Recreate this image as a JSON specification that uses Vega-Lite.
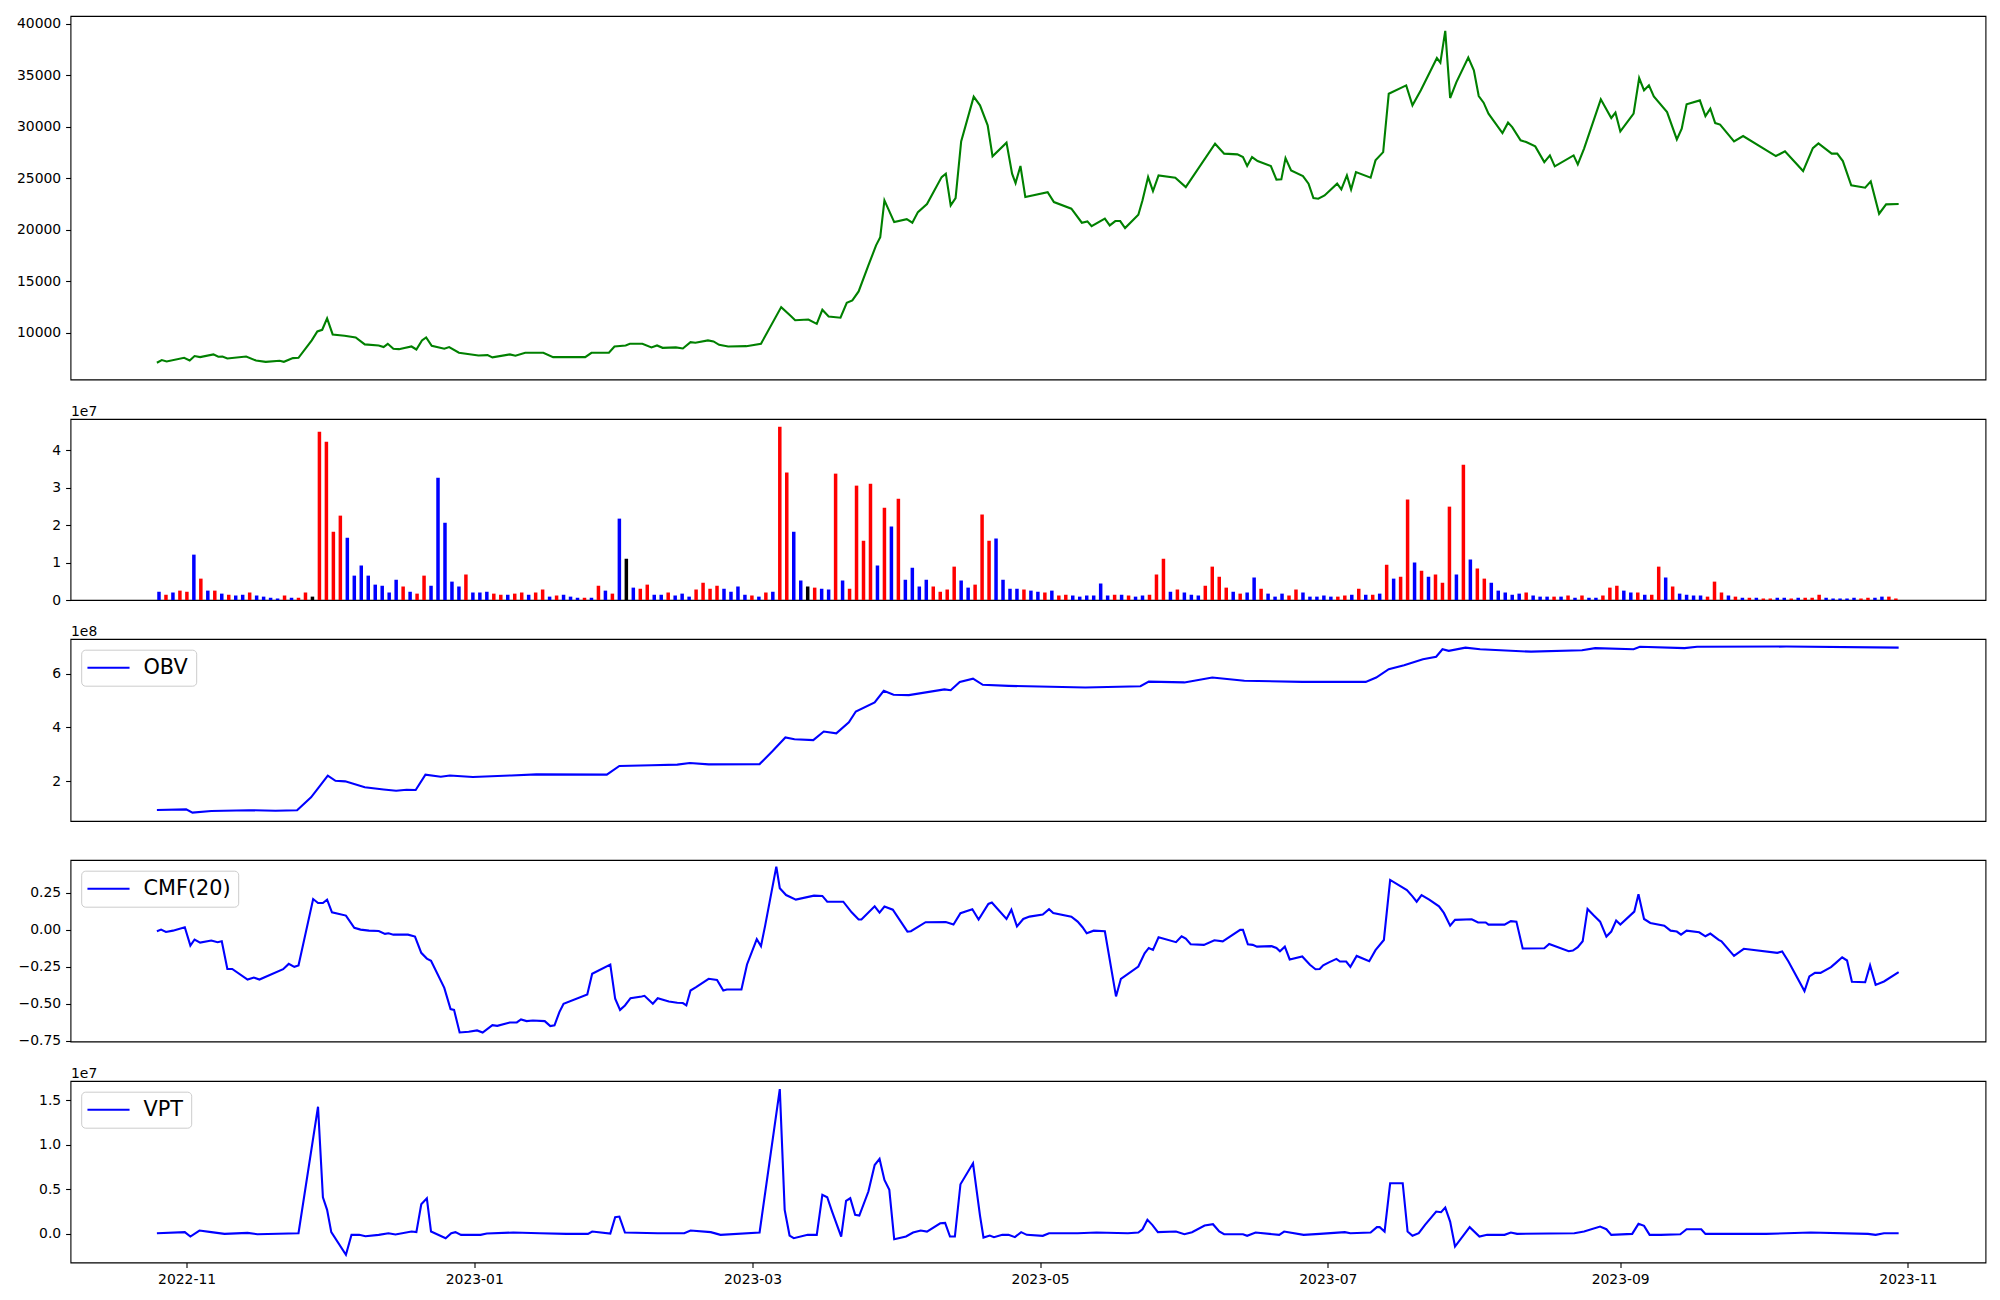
{
  "$schema": "https://vega.github.io/schema/vega-lite/v6.json",
  "autosize": {"type": "pad"},
  "padding": {"left": 15.5, "top": 15, "right": 15, "bottom": 15},
  "background": "white",
  "bounds": "flush",
  "spacing": 39,
  "config": {
    "font": "DejaVu Sans",
    "view": {"stroke": "black", "strokeWidth": 1.1},
    "axis": {"grid": false, "domain": false, "tickColor": "black", "tickWidth": 1.1, "tickSize": 4.9, "labelPadding": 4.9, "labelFontSize": 13.9, "labelColor": "black", "labelFont": "DejaVu Sans", "titleFont": "DejaVu Sans", "titleFontSize": 13.9, "titleFontWeight": "normal", "titleColor": "black"},
    "legend": {"orient": "none", "legendX": 10.7, "legendY": 10.7, "fillColor": "rgba(255,255,255,0.8)", "strokeColor": "#cccccc", "cornerRadius": 4, "padding": 7.5, "symbolType": "M-2.25,0H2.25", "symbolSize": 350, "symbolStrokeWidth": 2.1, "symbolOffset": 9.3, "labelFontSize": 20.8, "labelFont": "DejaVu Sans", "labelColor": "black", "labelOffset": 24.5}
  },
  "resolve": {"scale": {"x": "independent", "color": "independent"}, "legend": {"color": "independent"}},
  "datasets": {
    "price": [
      {"k":-0.3,"close":7090},{"k":0.4,"close":7350},{"k":1.1,"close":7220},{"k":3.6,"close":7570},{"k":4.4,"close":7310},{"k":5.1,"close":7740},{"k":5.9,"close":7640},{"k":7.8,"close":7900},{"k":8.5,"close":7670},{"k":9.1,"close":7700},{"k":9.8,"close":7500},{"k":12.5,"close":7700},{"k":13.9,"close":7310},{"k":15.3,"close":7180},{"k":17.3,"close":7280},{"k":17.9,"close":7180},{"k":19.2,"close":7540},{"k":20.0,"close":7570},{"k":21.9,"close":9260},{"k":22.7,"close":10130},{"k":23.4,"close":10290},{"k":24.1,"close":11390},{"k":24.9,"close":9840},{"k":26.6,"close":9710},{"k":28.2,"close":9550},{"k":29.5,"close":8870},{"k":31.5,"close":8770},{"k":32.2,"close":8610},{"k":32.8,"close":8930},{"k":33.6,"close":8450},{"k":34.4,"close":8410},{"k":36.2,"close":8670},{"k":36.9,"close":8380},{"k":37.7,"close":9260},{"k":38.3,"close":9550},{"k":39.1,"close":8740},{"k":40.9,"close":8450},{"k":41.6,"close":8610},{"k":43.0,"close":8060},{"k":45.8,"close":7800},{"k":47.1,"close":7830},{"k":47.8,"close":7610},{"k":50.3,"close":7900},{"k":51.1,"close":7770},{"k":52.5,"close":8060},{"k":55.1,"close":8060},{"k":56.5,"close":7640},{"k":61.1,"close":7640},{"k":62.0,"close":8060},{"k":64.5,"close":8060},{"k":65.3,"close":8670},{"k":66.9,"close":8770},{"k":67.5,"close":8930},{"k":69.3,"close":8930},{"k":70.6,"close":8580},{"k":71.4,"close":8770},{"k":72.2,"close":8540},{"k":74.1,"close":8580},{"k":75.1,"close":8480},{"k":76.2,"close":9090},{"k":76.9,"close":9030},{"k":78.7,"close":9260},{"k":79.5,"close":9160},{"k":80.3,"close":8830},{"k":81.6,"close":8670},{"k":84.2,"close":8700},{"k":86.3,"close":8930},{"k":89.2,"close":12490},{"k":90.5,"close":11680},{"k":91.2,"close":11220},{"k":93.1,"close":11290},{"k":94.3,"close":10870},{"k":95.1,"close":12230},{"k":96.0,"close":11580},{"k":97.7,"close":11460},{"k":98.6,"close":12910},{"k":99.4,"close":13140},{"k":100.3,"close":14010},{"k":101.7,"close":16530},{"k":102.8,"close":18480},{"k":103.4,"close":19280},{"k":104.0,"close":22850},{"k":105.4,"close":20740},{"k":107.2,"close":21030},{"k":108.0,"close":20680},{"k":108.8,"close":21710},{"k":110.1,"close":22490},{"k":112.2,"close":25110},{"k":112.8,"close":25440},{"k":113.5,"close":22360},{"k":114.2,"close":23070},{"k":115.0,"close":28570},{"k":116.8,"close":32910},{"k":117.7,"close":32070},{"k":118.8,"close":30130},{"k":119.5,"close":27120},{"k":121.5,"close":28450},{"k":122.3,"close":25440},{"k":122.8,"close":24530},{"k":123.5,"close":26180},{"k":124.2,"close":23170},{"k":127.4,"close":23650},{"k":128.3,"close":22680},{"k":130.8,"close":22040},{"k":132.3,"close":20680},{"k":133.1,"close":20810},{"k":133.7,"close":20350},{"k":135.6,"close":21070},{"k":136.3,"close":20420},{"k":137.1,"close":20840},{"k":137.8,"close":20840},{"k":138.5,"close":20160},{"k":140.4,"close":21460},{"k":141.0,"close":22850},{"k":141.8,"close":25110},{"k":142.5,"close":23750},{"k":143.3,"close":25270},{"k":145.7,"close":25050},{"k":147.2,"close":24140},{"k":151.4,"close":28350},{"k":152.7,"close":27380},{"k":154.6,"close":27310},{"k":155.4,"close":27050},{"k":156.0,"close":26180},{"k":156.7,"close":27050},{"k":157.5,"close":26660},{"k":159.4,"close":26180},{"k":160.2,"close":24860},{"k":160.9,"close":24890},{"k":161.5,"close":26950},{"k":162.3,"close":25760},{"k":164.0,"close":25200},{"k":164.8,"close":24470},{"k":165.5,"close":23070},{"k":166.2,"close":23010},{"k":167.1,"close":23330},{"k":168.9,"close":24470},{"k":169.5,"close":23910},{"k":170.3,"close":25270},{"k":170.9,"close":23910},{"k":171.6,"close":25590},{"k":173.7,"close":25050},{"k":174.4,"close":26730},{"k":175.5,"close":27530},{"k":176.3,"close":33200},{"k":178.8,"close":34010},{"k":179.7,"close":32070},{"k":180.9,"close":33530},{"k":183.2,"close":36660},{"k":183.7,"close":36210},{"k":184.4,"close":39290},{"k":185.1,"close":32780},{"k":186.0,"close":34330},{"k":187.7,"close":36700},{"k":188.5,"close":35470},{"k":189.2,"close":32970},{"k":189.9,"close":32330},{"k":190.6,"close":31260},{"k":192.6,"close":29380},{"k":193.4,"close":30390},{"k":194.0,"close":29960},{"k":195.2,"close":28670},{"k":196.0,"close":28510},{"k":197.3,"close":28090},{"k":198.6,"close":26560},{"k":199.4,"close":27210},{"k":200.1,"close":26150},{"k":202.8,"close":27210},{"k":203.4,"close":26340},{"k":204.3,"close":27870},{"k":206.7,"close":32650},{"k":208.2,"close":30840},{"k":208.8,"close":31360},{"k":209.5,"close":29540},{"k":211.4,"close":31260},{"k":212.2,"close":34720},{"k":212.9,"close":33530},{"k":213.6,"close":34010},{"k":214.3,"close":32940},{"k":216.2,"close":31420},{"k":217.6,"close":28770},{"k":218.3,"close":29810},{"k":219.0,"close":32170},{"k":220.9,"close":32550},{"k":221.7,"close":31030},{"k":222.4,"close":31750},{"k":223.1,"close":30350},{"k":223.8,"close":30200},{"k":225.8,"close":28570},{"k":227.1,"close":29090},{"k":231.8,"close":27150},{"k":233.1,"close":27600},{"k":235.7,"close":25690},{"k":237.1,"close":27920},{"k":237.9,"close":28380},{"k":239.8,"close":27380},{"k":240.6,"close":27380},{"k":241.4,"close":26660},{"k":242.6,"close":24300},{"k":244.6,"close":24080},{"k":245.4,"close":24690},{"k":246.6,"close":21550},{"k":247.6,"close":22460},{"k":249.4,"close":22490}
    ],
    "volume": [
      {"k":0,"v":0.22e7,"dir":"down"},{"k":1,"v":0.14e7,"dir":"up"},{"k":2,"v":0.20e7,"dir":"down"},{"k":3,"v":0.25e7,"dir":"up"},{"k":4,"v":0.22e7,"dir":"up"},{"k":5,"v":1.21e7,"dir":"down"},{"k":6,"v":0.57e7,"dir":"up"},{"k":7,"v":0.25e7,"dir":"down"},{"k":8,"v":0.25e7,"dir":"up"},{"k":9,"v":0.17e7,"dir":"down"},
      {"k":10,"v":0.14e7,"dir":"up"},{"k":11,"v":0.12e7,"dir":"down"},{"k":12,"v":0.14e7,"dir":"down"},{"k":13,"v":0.20e7,"dir":"up"},{"k":14,"v":0.12e7,"dir":"down"},{"k":15,"v":0.09e7,"dir":"down"},{"k":16,"v":0.06e7,"dir":"down"},{"k":17,"v":0.04e7,"dir":"down"},{"k":18,"v":0.12e7,"dir":"up"},{"k":19,"v":0.06e7,"dir":"down"},
      {"k":20,"v":0.06e7,"dir":"up"},{"k":21,"v":0.20e7,"dir":"up"},{"k":22,"v":0.09e7,"dir":"flat"},{"k":23,"v":4.49e7,"dir":"up"},{"k":24,"v":4.22e7,"dir":"up"},{"k":25,"v":1.82e7,"dir":"up"},{"k":26,"v":2.25e7,"dir":"up"},{"k":27,"v":1.66e7,"dir":"down"},{"k":28,"v":0.65e7,"dir":"down"},{"k":29,"v":0.92e7,"dir":"down"},
      {"k":30,"v":0.65e7,"dir":"down"},{"k":31,"v":0.41e7,"dir":"down"},{"k":32,"v":0.38e7,"dir":"down"},{"k":33,"v":0.20e7,"dir":"down"},{"k":34,"v":0.54e7,"dir":"down"},{"k":35,"v":0.36e7,"dir":"up"},{"k":36,"v":0.22e7,"dir":"down"},{"k":37,"v":0.17e7,"dir":"up"},{"k":38,"v":0.65e7,"dir":"up"},{"k":39,"v":0.38e7,"dir":"down"},
      {"k":40,"v":3.26e7,"dir":"down"},{"k":41,"v":2.06e7,"dir":"down"},{"k":42,"v":0.49e7,"dir":"down"},{"k":43,"v":0.36e7,"dir":"down"},{"k":44,"v":0.68e7,"dir":"up"},{"k":45,"v":0.20e7,"dir":"down"},{"k":46,"v":0.20e7,"dir":"down"},{"k":47,"v":0.22e7,"dir":"down"},{"k":48,"v":0.17e7,"dir":"up"},{"k":49,"v":0.14e7,"dir":"up"},
      {"k":50,"v":0.14e7,"dir":"down"},{"k":51,"v":0.17e7,"dir":"up"},{"k":52,"v":0.20e7,"dir":"up"},{"k":53,"v":0.14e7,"dir":"down"},{"k":54,"v":0.20e7,"dir":"up"},{"k":55,"v":0.28e7,"dir":"up"},{"k":56,"v":0.09e7,"dir":"down"},{"k":57,"v":0.12e7,"dir":"up"},{"k":58,"v":0.14e7,"dir":"down"},{"k":59,"v":0.09e7,"dir":"down"},
      {"k":60,"v":0.06e7,"dir":"down"},{"k":61,"v":0.06e7,"dir":"up"},{"k":62,"v":0.06e7,"dir":"down"},{"k":63,"v":0.38e7,"dir":"up"},{"k":64,"v":0.25e7,"dir":"down"},{"k":65,"v":0.17e7,"dir":"up"},{"k":66,"v":2.17e7,"dir":"down"},{"k":67,"v":1.10e7,"dir":"flat"},{"k":68,"v":0.33e7,"dir":"down"},{"k":69,"v":0.30e7,"dir":"up"},
      {"k":70,"v":0.41e7,"dir":"up"},{"k":71,"v":0.14e7,"dir":"down"},{"k":72,"v":0.14e7,"dir":"down"},{"k":73,"v":0.20e7,"dir":"up"},{"k":74,"v":0.12e7,"dir":"down"},{"k":75,"v":0.17e7,"dir":"down"},{"k":76,"v":0.09e7,"dir":"down"},{"k":77,"v":0.28e7,"dir":"up"},{"k":78,"v":0.46e7,"dir":"up"},{"k":79,"v":0.30e7,"dir":"up"},
      {"k":80,"v":0.38e7,"dir":"up"},{"k":81,"v":0.30e7,"dir":"down"},{"k":82,"v":0.22e7,"dir":"down"},{"k":83,"v":0.36e7,"dir":"down"},{"k":84,"v":0.14e7,"dir":"down"},{"k":85,"v":0.12e7,"dir":"up"},{"k":86,"v":0.09e7,"dir":"down"},{"k":87,"v":0.20e7,"dir":"up"},{"k":88,"v":0.22e7,"dir":"down"},{"k":89,"v":4.62e7,"dir":"up"},
      {"k":90,"v":3.40e7,"dir":"up"},{"k":91,"v":1.82e7,"dir":"down"},{"k":92,"v":0.52e7,"dir":"down"},{"k":93,"v":0.36e7,"dir":"flat"},{"k":94,"v":0.33e7,"dir":"up"},{"k":95,"v":0.30e7,"dir":"down"},{"k":96,"v":0.28e7,"dir":"down"},{"k":97,"v":3.37e7,"dir":"up"},{"k":98,"v":0.52e7,"dir":"down"},{"k":99,"v":0.30e7,"dir":"up"},
      {"k":100,"v":3.05e7,"dir":"up"},{"k":101,"v":1.58e7,"dir":"up"},{"k":102,"v":3.10e7,"dir":"up"},{"k":103,"v":0.92e7,"dir":"down"},{"k":104,"v":2.46e7,"dir":"up"},{"k":105,"v":1.96e7,"dir":"down"},{"k":106,"v":2.70e7,"dir":"up"},{"k":107,"v":0.54e7,"dir":"down"},{"k":108,"v":0.86e7,"dir":"down"},{"k":109,"v":0.36e7,"dir":"down"},
      {"k":110,"v":0.54e7,"dir":"down"},{"k":111,"v":0.36e7,"dir":"up"},{"k":112,"v":0.22e7,"dir":"up"},{"k":113,"v":0.28e7,"dir":"up"},{"k":114,"v":0.89e7,"dir":"up"},{"k":115,"v":0.52e7,"dir":"down"},{"k":116,"v":0.33e7,"dir":"down"},{"k":117,"v":0.41e7,"dir":"up"},{"k":118,"v":2.28e7,"dir":"up"},{"k":119,"v":1.58e7,"dir":"up"},
      {"k":120,"v":1.64e7,"dir":"down"},{"k":121,"v":0.54e7,"dir":"down"},{"k":122,"v":0.30e7,"dir":"down"},{"k":123,"v":0.30e7,"dir":"down"},{"k":124,"v":0.28e7,"dir":"up"},{"k":125,"v":0.25e7,"dir":"down"},{"k":126,"v":0.22e7,"dir":"down"},{"k":127,"v":0.20e7,"dir":"up"},{"k":128,"v":0.25e7,"dir":"down"},{"k":129,"v":0.12e7,"dir":"up"},
      {"k":130,"v":0.14e7,"dir":"up"},{"k":131,"v":0.12e7,"dir":"down"},{"k":132,"v":0.09e7,"dir":"down"},{"k":133,"v":0.12e7,"dir":"down"},{"k":134,"v":0.12e7,"dir":"down"},{"k":135,"v":0.44e7,"dir":"down"},{"k":136,"v":0.12e7,"dir":"down"},{"k":137,"v":0.14e7,"dir":"up"},{"k":138,"v":0.14e7,"dir":"down"},{"k":139,"v":0.12e7,"dir":"up"},
      {"k":140,"v":0.09e7,"dir":"down"},{"k":141,"v":0.12e7,"dir":"down"},{"k":142,"v":0.14e7,"dir":"up"},{"k":143,"v":0.68e7,"dir":"up"},{"k":144,"v":1.10e7,"dir":"up"},{"k":145,"v":0.22e7,"dir":"down"},{"k":146,"v":0.28e7,"dir":"up"},{"k":147,"v":0.20e7,"dir":"down"},{"k":148,"v":0.14e7,"dir":"down"},{"k":149,"v":0.12e7,"dir":"down"},
      {"k":150,"v":0.38e7,"dir":"up"},{"k":151,"v":0.89e7,"dir":"up"},{"k":152,"v":0.62e7,"dir":"up"},{"k":153,"v":0.33e7,"dir":"up"},{"k":154,"v":0.22e7,"dir":"down"},{"k":155,"v":0.17e7,"dir":"up"},{"k":156,"v":0.20e7,"dir":"down"},{"k":157,"v":0.60e7,"dir":"down"},{"k":158,"v":0.30e7,"dir":"up"},{"k":159,"v":0.17e7,"dir":"down"},
      {"k":160,"v":0.09e7,"dir":"down"},{"k":161,"v":0.17e7,"dir":"down"},{"k":162,"v":0.12e7,"dir":"up"},{"k":163,"v":0.28e7,"dir":"up"},{"k":164,"v":0.20e7,"dir":"down"},{"k":165,"v":0.09e7,"dir":"down"},{"k":166,"v":0.09e7,"dir":"down"},{"k":167,"v":0.12e7,"dir":"down"},{"k":168,"v":0.09e7,"dir":"down"},{"k":169,"v":0.09e7,"dir":"up"},
      {"k":170,"v":0.12e7,"dir":"up"},{"k":171,"v":0.14e7,"dir":"down"},{"k":172,"v":0.30e7,"dir":"up"},{"k":173,"v":0.14e7,"dir":"down"},{"k":174,"v":0.14e7,"dir":"up"},{"k":175,"v":0.17e7,"dir":"down"},{"k":176,"v":0.94e7,"dir":"up"},{"k":177,"v":0.57e7,"dir":"down"},{"k":178,"v":0.62e7,"dir":"up"},{"k":179,"v":2.68e7,"dir":"up"},
      {"k":180,"v":1.00e7,"dir":"down"},{"k":181,"v":0.78e7,"dir":"up"},{"k":182,"v":0.62e7,"dir":"down"},{"k":183,"v":0.68e7,"dir":"up"},{"k":184,"v":0.46e7,"dir":"up"},{"k":185,"v":2.49e7,"dir":"up"},{"k":186,"v":0.68e7,"dir":"down"},{"k":187,"v":3.61e7,"dir":"up"},{"k":188,"v":1.08e7,"dir":"down"},{"k":189,"v":0.84e7,"dir":"up"},
      {"k":190,"v":0.57e7,"dir":"up"},{"k":191,"v":0.46e7,"dir":"down"},{"k":192,"v":0.25e7,"dir":"down"},{"k":193,"v":0.20e7,"dir":"down"},{"k":194,"v":0.14e7,"dir":"down"},{"k":195,"v":0.17e7,"dir":"down"},{"k":196,"v":0.20e7,"dir":"up"},{"k":197,"v":0.12e7,"dir":"down"},{"k":198,"v":0.09e7,"dir":"down"},{"k":199,"v":0.09e7,"dir":"down"},
      {"k":200,"v":0.09e7,"dir":"up"},{"k":201,"v":0.09e7,"dir":"down"},{"k":202,"v":0.12e7,"dir":"up"},{"k":203,"v":0.06e7,"dir":"down"},{"k":204,"v":0.12e7,"dir":"up"},{"k":205,"v":0.06e7,"dir":"down"},{"k":206,"v":0.06e7,"dir":"down"},{"k":207,"v":0.12e7,"dir":"up"},{"k":208,"v":0.33e7,"dir":"up"},{"k":209,"v":0.38e7,"dir":"up"},
      {"k":210,"v":0.25e7,"dir":"down"},{"k":211,"v":0.20e7,"dir":"down"},{"k":212,"v":0.20e7,"dir":"up"},{"k":213,"v":0.14e7,"dir":"down"},{"k":214,"v":0.14e7,"dir":"up"},{"k":215,"v":0.89e7,"dir":"up"},{"k":216,"v":0.60e7,"dir":"down"},{"k":217,"v":0.36e7,"dir":"up"},{"k":218,"v":0.17e7,"dir":"down"},{"k":219,"v":0.14e7,"dir":"down"},
      {"k":220,"v":0.12e7,"dir":"down"},{"k":221,"v":0.12e7,"dir":"down"},{"k":222,"v":0.09e7,"dir":"up"},{"k":223,"v":0.49e7,"dir":"up"},{"k":224,"v":0.20e7,"dir":"up"},{"k":225,"v":0.12e7,"dir":"down"},{"k":226,"v":0.09e7,"dir":"up"},{"k":227,"v":0.06e7,"dir":"down"},{"k":228,"v":0.06e7,"dir":"up"},{"k":229,"v":0.06e7,"dir":"down"},
      {"k":230,"v":0.04e7,"dir":"up"},{"k":231,"v":0.04e7,"dir":"up"},{"k":232,"v":0.06e7,"dir":"down"},{"k":233,"v":0.06e7,"dir":"down"},{"k":234,"v":0.04e7,"dir":"up"},{"k":235,"v":0.06e7,"dir":"down"},{"k":236,"v":0.06e7,"dir":"up"},{"k":237,"v":0.06e7,"dir":"up"},{"k":238,"v":0.14e7,"dir":"up"},{"k":239,"v":0.06e7,"dir":"down"},
      {"k":240,"v":0.04e7,"dir":"down"},{"k":241,"v":0.04e7,"dir":"down"},{"k":242,"v":0.04e7,"dir":"down"},{"k":243,"v":0.06e7,"dir":"down"},{"k":244,"v":0.04e7,"dir":"up"},{"k":245,"v":0.06e7,"dir":"up"},{"k":246,"v":0.06e7,"dir":"down"},{"k":247,"v":0.09e7,"dir":"down"},{"k":248,"v":0.09e7,"dir":"up"},{"k":249,"v":0.04e7,"dir":"up"}
    ],
    "obv": [
      {"k":-0.3,"obv":0.94e8},{"k":3.9,"obv":0.96e8},{"k":4.8,"obv":0.84e8},{"k":7.5,"obv":0.90e8},{"k":12.9,"obv":0.93e8},{"k":16.7,"obv":0.91e8},{"k":19.8,"obv":0.93e8},{"k":21.8,"obv":1.41e8},{"k":23.1,"obv":1.84e8},{"k":24.2,"obv":2.21e8},{"k":25.3,"obv":2.02e8},{"k":26.7,"obv":2.00e8},{"k":29.5,"obv":1.78e8},{"k":32.2,"obv":1.70e8},{"k":34.0,"obv":1.65e8},{"k":35.5,"obv":1.69e8},{"k":36.8,"obv":1.68e8},{"k":38.2,"obv":2.25e8},{"k":40.4,"obv":2.17e8},{"k":41.7,"obv":2.22e8},{"k":45.0,"obv":2.16e8},{"k":50.5,"obv":2.22e8},{"k":54.1,"obv":2.26e8},{"k":64.2,"obv":2.25e8},{"k":66.0,"obv":2.57e8},{"k":70.6,"obv":2.60e8},{"k":74.3,"obv":2.62e8},{"k":76.1,"obv":2.68e8},{"k":78.8,"obv":2.63e8},{"k":86.1,"obv":2.64e8},{"k":87.9,"obv":3.11e8},{"k":89.8,"obv":3.63e8},{"k":91.1,"obv":3.56e8},{"k":93.8,"obv":3.53e8},{"k":95.3,"obv":3.85e8},{"k":97.1,"obv":3.78e8},{"k":98.9,"obv":4.19e8},{"k":99.9,"obv":4.59e8},{"k":102.6,"obv":4.93e8},{"k":103.9,"obv":5.36e8},{"k":105.3,"obv":5.21e8},{"k":107.5,"obv":5.20e8},{"k":112.6,"obv":5.41e8},{"k":113.5,"obv":5.38e8},{"k":114.8,"obv":5.69e8},{"k":116.7,"obv":5.81e8},{"k":118.1,"obv":5.58e8},{"k":121.8,"obv":5.54e8},{"k":132.8,"obv":5.48e8},{"k":140.7,"obv":5.53e8},{"k":141.9,"obv":5.70e8},{"k":147.0,"obv":5.67e8},{"k":151.0,"obv":5.85e8},{"k":155.6,"obv":5.73e8},{"k":163.9,"obv":5.69e8},{"k":173.0,"obv":5.69e8},{"k":174.5,"obv":5.85e8},{"k":176.3,"obv":6.16e8},{"k":178.5,"obv":6.31e8},{"k":181.2,"obv":6.53e8},{"k":183.1,"obv":6.62e8},{"k":184.0,"obv":6.90e8},{"k":184.9,"obv":6.84e8},{"k":187.3,"obv":6.96e8},{"k":189.4,"obv":6.90e8},{"k":196.7,"obv":6.81e8},{"k":204.0,"obv":6.86e8},{"k":205.9,"obv":6.94e8},{"k":211.4,"obv":6.90e8},{"k":212.3,"obv":6.99e8},{"k":218.7,"obv":6.94e8},{"k":220.5,"obv":6.99e8},{"k":233.3,"obv":7.00e8},{"k":249.4,"obv":6.96e8}
    ],
    "cmf": [
      {"k":-0.3,"cmf":-0.009},{"k":0.3,"cmf":0.002},{"k":1.0,"cmf":-0.014},{"k":2.0,"cmf":-0.005},{"k":3.7,"cmf":0.018},{"k":4.5,"cmf":-0.106},{"k":5.1,"cmf":-0.065},{"k":5.9,"cmf":-0.086},{"k":7.5,"cmf":-0.072},{"k":8.4,"cmf":-0.083},{"k":9.0,"cmf":-0.077},{"k":9.8,"cmf":-0.264},{"k":10.5,"cmf":-0.264},{"k":12.7,"cmf":-0.336},{"k":13.6,"cmf":-0.322},{"k":14.4,"cmf":-0.336},{"k":17.8,"cmf":-0.266},{"k":18.6,"cmf":-0.230},{"k":19.4,"cmf":-0.25},{"k":20.0,"cmf":-0.241},{"k":22.1,"cmf":0.209},{"k":22.8,"cmf":0.182},{"k":23.5,"cmf":0.182},{"k":24.1,"cmf":0.205},{"k":24.8,"cmf":0.119},{"k":26.8,"cmf":0.097},{"k":28.0,"cmf":0.014},{"k":28.9,"cmf":0.002},{"k":30.1,"cmf":-0.005},{"k":31.5,"cmf":-0.007},{"k":32.4,"cmf":-0.027},{"k":32.9,"cmf":-0.023},{"k":33.6,"cmf":-0.032},{"k":35.7,"cmf":-0.032},{"k":36.7,"cmf":-0.045},{"k":37.6,"cmf":-0.155},{"k":38.4,"cmf":-0.194},{"k":39.0,"cmf":-0.209},{"k":40.9,"cmf":-0.392},{"k":41.8,"cmf":-0.536},{"k":42.3,"cmf":-0.541},{"k":43.1,"cmf":-0.694},{"k":44.4,"cmf":-0.689},{"k":45.6,"cmf":-0.680},{"k":46.4,"cmf":-0.694},{"k":47.8,"cmf":-0.644},{"k":48.5,"cmf":-0.649},{"k":50.3,"cmf":-0.626},{"k":51.3,"cmf":-0.626},{"k":51.9,"cmf":-0.606},{"k":52.7,"cmf":-0.617},{"k":53.6,"cmf":-0.613},{"k":55.3,"cmf":-0.617},{"k":56.1,"cmf":-0.651},{"k":56.7,"cmf":-0.646},{"k":57.4,"cmf":-0.556},{"k":58.0,"cmf":-0.5},{"k":61.4,"cmf":-0.437},{"k":62.1,"cmf":-0.297},{"k":64.7,"cmf":-0.234},{"k":65.4,"cmf":-0.466},{"k":66.1,"cmf":-0.541},{"k":66.8,"cmf":-0.511},{"k":67.6,"cmf":-0.462},{"k":69.2,"cmf":-0.450},{"k":69.6,"cmf":-0.446},{"k":70.8,"cmf":-0.5},{"k":71.5,"cmf":-0.462},{"k":73.1,"cmf":-0.484},{"k":74.3,"cmf":-0.493},{"k":75.1,"cmf":-0.495},{"k":75.6,"cmf":-0.511},{"k":76.2,"cmf":-0.410},{"k":77.0,"cmf":-0.387},{"k":78.8,"cmf":-0.331},{"k":80.0,"cmf":-0.338},{"k":80.9,"cmf":-0.410},{"k":81.4,"cmf":-0.403},{"k":83.5,"cmf":-0.403},{"k":84.3,"cmf":-0.234},{"k":85.7,"cmf":-0.063},{"k":86.3,"cmf":-0.110},{"k":86.9,"cmf":0.029},{"k":88.5,"cmf":0.428},{"k":89.0,"cmf":0.282},{"k":89.9,"cmf":0.236},{"k":91.3,"cmf":0.205},{"k":93.9,"cmf":0.232},{"k":95.1,"cmf":0.230},{"k":95.8,"cmf":0.191},{"k":98.1,"cmf":0.191},{"k":99.3,"cmf":0.119},{"k":100.3,"cmf":0.070},{"k":100.7,"cmf":0.070},{"k":102.6,"cmf":0.160},{"k":103.3,"cmf":0.117},{"k":104.0,"cmf":0.158},{"k":105.2,"cmf":0.137},{"k":107.3,"cmf":-0.011},{"k":107.8,"cmf":-0.009},{"k":109.9,"cmf":0.052},{"k":112.8,"cmf":0.054},{"k":113.9,"cmf":0.036},{"k":114.9,"cmf":0.113},{"k":116.6,"cmf":0.140},{"k":117.5,"cmf":0.070},{"k":118.9,"cmf":0.176},{"k":119.4,"cmf":0.185},{"k":121.5,"cmf":0.074},{"k":122.2,"cmf":0.137},{"k":123.0,"cmf":0.024},{"k":123.9,"cmf":0.074},{"k":124.8,"cmf":0.090},{"k":126.7,"cmf":0.104},{"k":127.6,"cmf":0.140},{"k":128.2,"cmf":0.115},{"k":130.8,"cmf":0.090},{"k":131.7,"cmf":0.056},{"k":132.4,"cmf":0.018},{"k":133.0,"cmf":-0.023},{"k":134.0,"cmf":-0.005},{"k":135.6,"cmf":-0.009},{"k":137.2,"cmf":-0.450},{"k":137.9,"cmf":-0.331},{"k":140.4,"cmf":-0.248},{"k":141.3,"cmf":-0.158},{"k":141.9,"cmf":-0.122},{"k":142.5,"cmf":-0.135},{"k":143.3,"cmf":-0.050},{"k":145.8,"cmf":-0.083},{"k":146.6,"cmf":-0.043},{"k":147.2,"cmf":-0.059},{"k":147.9,"cmf":-0.097},{"k":149.8,"cmf":-0.101},{"k":151.3,"cmf":-0.070},{"k":152.5,"cmf":-0.077},{"k":155.0,"cmf":0.0},{"k":155.4,"cmf":0.0},{"k":156.1,"cmf":-0.097},{"k":156.8,"cmf":-0.101},{"k":157.4,"cmf":-0.113},{"k":159.5,"cmf":-0.110},{"k":160.2,"cmf":-0.122},{"k":160.7,"cmf":-0.144},{"k":161.4,"cmf":-0.113},{"k":162.1,"cmf":-0.200},{"k":163.9,"cmf":-0.180},{"k":165.0,"cmf":-0.236},{"k":165.8,"cmf":-0.266},{"k":166.4,"cmf":-0.264},{"k":166.9,"cmf":-0.239},{"k":167.8,"cmf":-0.218},{"k":168.8,"cmf":-0.196},{"k":169.3,"cmf":-0.214},{"k":170.2,"cmf":-0.214},{"k":170.8,"cmf":-0.25},{"k":171.7,"cmf":-0.176},{"k":173.5,"cmf":-0.212},{"k":174.4,"cmf":-0.137},{"k":175.6,"cmf":-0.068},{"k":176.5,"cmf":0.338},{"k":178.9,"cmf":0.270},{"k":179.7,"cmf":0.227},{"k":180.3,"cmf":0.191},{"k":181.0,"cmf":0.236},{"k":182.1,"cmf":0.205},{"k":183.5,"cmf":0.160},{"k":184.2,"cmf":0.115},{"k":185.1,"cmf":0.029},{"k":185.8,"cmf":0.068},{"k":188.2,"cmf":0.072},{"k":189.1,"cmf":0.050},{"k":190.2,"cmf":0.050},{"k":190.6,"cmf":0.036},{"k":192.9,"cmf":0.036},{"k":193.8,"cmf":0.059},{"k":194.6,"cmf":0.056},{"k":195.5,"cmf":-0.126},{"k":198.6,"cmf":-0.124},{"k":199.3,"cmf":-0.095},{"k":202.1,"cmf":-0.144},{"k":202.7,"cmf":-0.140},{"k":203.4,"cmf":-0.117},{"k":204.1,"cmf":-0.077},{"k":204.8,"cmf":0.142},{"k":205.7,"cmf":0.097},{"k":206.6,"cmf":0.056},{"k":207.5,"cmf":-0.045},{"k":208.2,"cmf":-0.011},{"k":208.9,"cmf":0.063},{"k":209.5,"cmf":0.036},{"k":211.5,"cmf":0.124},{"k":212.1,"cmf":0.241},{"k":212.9,"cmf":0.074},{"k":213.8,"cmf":0.047},{"k":215.8,"cmf":0.029},{"k":216.7,"cmf":-0.005},{"k":217.6,"cmf":-0.011},{"k":218.2,"cmf":-0.032},{"k":219.0,"cmf":-0.005},{"k":220.8,"cmf":-0.016},{"k":221.7,"cmf":-0.043},{"k":222.4,"cmf":-0.025},{"k":223.6,"cmf":-0.068},{"k":224.0,"cmf":-0.077},{"k":225.8,"cmf":-0.176},{"k":227.2,"cmf":-0.128},{"k":232.0,"cmf":-0.155},{"k":232.7,"cmf":-0.146},{"k":233.6,"cmf":-0.214},{"k":235.9,"cmf":-0.414},{"k":236.6,"cmf":-0.315},{"k":237.4,"cmf":-0.291},{"k":238.2,"cmf":-0.291},{"k":239.7,"cmf":-0.252},{"k":240.4,"cmf":-0.223},{"k":241.3,"cmf":-0.185},{"k":242.0,"cmf":-0.207},{"k":242.7,"cmf":-0.351},{"k":244.6,"cmf":-0.354},{"k":245.3,"cmf":-0.239},{"k":246.1,"cmf":-0.372},{"k":247.3,"cmf":-0.349},{"k":249.4,"cmf":-0.286}
    ],
    "vpt": [
      {"k":-0.3,"vpt":0.007e7},{"k":3.7,"vpt":0.019e7},{"k":4.5,"vpt":-0.03e7},{"k":5.8,"vpt":0.037e7},{"k":7.5,"vpt":0.019e7},{"k":9.4,"vpt":0},{"k":12.7,"vpt":0.011e7},{"k":14.1,"vpt":-0.004e7},{"k":20.0,"vpt":0.007e7},{"k":22.8,"vpt":1.425e7},{"k":23.5,"vpt":0.41e7},{"k":24.1,"vpt":0.269e7},{"k":24.7,"vpt":0.019e7},{"k":26.8,"vpt":-0.235e7},{"k":27.6,"vpt":-0.011e7},{"k":28.7,"vpt":-0.011e7},{"k":29.6,"vpt":-0.026e7},{"k":31.5,"vpt":-0.011e7},{"k":32.9,"vpt":0.007e7},{"k":33.9,"vpt":-0.007e7},{"k":36.2,"vpt":0.026e7},{"k":36.9,"vpt":0.019e7},{"k":37.6,"vpt":0.332e7},{"k":38.4,"vpt":0.399e7},{"k":39.0,"vpt":0.026e7},{"k":41.1,"vpt":-0.049e7},{"k":41.9,"vpt":0.007e7},{"k":42.5,"vpt":0.019e7},{"k":43.3,"vpt":-0.011e7},{"k":46.1,"vpt":-0.011e7},{"k":47.0,"vpt":0.004e7},{"k":50.8,"vpt":0.015e7},{"k":54.6,"vpt":0.007e7},{"k":58.4,"vpt":0},{"k":61.5,"vpt":0},{"k":62.1,"vpt":0.026e7},{"k":64.7,"vpt":0.004e7},{"k":65.4,"vpt":0.187e7},{"k":66.0,"vpt":0.194e7},{"k":66.8,"vpt":0.015e7},{"k":71.5,"vpt":0.007e7},{"k":75.3,"vpt":0.007e7},{"k":76.2,"vpt":0.037e7},{"k":79.1,"vpt":0.019e7},{"k":80.5,"vpt":-0.011e7},{"k":86.1,"vpt":0.015e7},{"k":89.0,"vpt":1.623e7},{"k":89.7,"vpt":0.269e7},{"k":90.4,"vpt":-0.019e7},{"k":91.0,"vpt":-0.049e7},{"k":93.0,"vpt":-0.011e7},{"k":94.3,"vpt":-0.011e7},{"k":95.1,"vpt":0.437e7},{"k":95.8,"vpt":0.41e7},{"k":96.5,"vpt":0.25e7},{"k":97.8,"vpt":-0.03e7},{"k":98.5,"vpt":0.369e7},{"k":99.1,"vpt":0.399e7},{"k":99.8,"vpt":0.213e7},{"k":100.4,"vpt":0.205e7},{"k":101.7,"vpt":0.474e7},{"k":102.6,"vpt":0.772e7},{"k":103.3,"vpt":0.84e7},{"k":104.0,"vpt":0.604e7},{"k":104.7,"vpt":0.493e7},{"k":105.4,"vpt":-0.06e7},{"k":107.1,"vpt":-0.03e7},{"k":108.1,"vpt":0.015e7},{"k":109.2,"vpt":0.037e7},{"k":110.1,"vpt":0.026e7},{"k":112.0,"vpt":0.119e7},{"k":112.7,"vpt":0.123e7},{"k":113.4,"vpt":-0.03e7},{"k":114.1,"vpt":-0.03e7},{"k":114.9,"vpt":0.556e7},{"k":116.7,"vpt":0.791e7},{"k":117.7,"vpt":0.205e7},{"k":118.2,"vpt":-0.041e7},{"k":119.1,"vpt":-0.019e7},{"k":119.7,"vpt":-0.037e7},{"k":120.9,"vpt":-0.011e7},{"k":121.8,"vpt":-0.011e7},{"k":122.7,"vpt":-0.037e7},{"k":123.6,"vpt":0.019e7},{"k":124.4,"vpt":-0.011e7},{"k":126.7,"vpt":-0.022e7},{"k":127.6,"vpt":0.007e7},{"k":131.7,"vpt":0.007e7},{"k":134.4,"vpt":0.015e7},{"k":138.9,"vpt":0.007e7},{"k":140.4,"vpt":0.015e7},{"k":141.0,"vpt":0.052e7},{"k":141.7,"vpt":0.157e7},{"k":142.4,"vpt":0.101e7},{"k":143.2,"vpt":0.019e7},{"k":145.8,"vpt":0.026e7},{"k":147.0,"vpt":-0.004e7},{"k":148.1,"vpt":0.019e7},{"k":149.9,"vpt":0.093e7},{"k":151.1,"vpt":0.108e7},{"k":152.0,"vpt":0.026e7},{"k":152.7,"vpt":-0.004e7},{"k":155.4,"vpt":-0.004e7},{"k":156.0,"vpt":-0.022e7},{"k":157.2,"vpt":0.015e7},{"k":160.6,"vpt":-0.011e7},{"k":161.3,"vpt":0.026e7},{"k":164.1,"vpt":-0.011e7},{"k":166.4,"vpt":0},{"k":170.0,"vpt":0.019e7},{"k":170.8,"vpt":0.007e7},{"k":173.7,"vpt":0.015e7},{"k":174.6,"vpt":0.075e7},{"k":175.0,"vpt":0.075e7},{"k":175.7,"vpt":0.026e7},{"k":176.5,"vpt":0.567e7},{"k":178.3,"vpt":0.567e7},{"k":179.0,"vpt":0.026e7},{"k":179.7,"vpt":-0.022e7},{"k":180.6,"vpt":0.007e7},{"k":181.5,"vpt":0.101e7},{"k":183.1,"vpt":0.25e7},{"k":183.8,"vpt":0.243e7},{"k":184.4,"vpt":0.295e7},{"k":185.1,"vpt":0.138e7},{"k":185.8,"vpt":-0.142e7},{"k":187.9,"vpt":0.075e7},{"k":189.3,"vpt":-0.03e7},{"k":190.4,"vpt":-0.011e7},{"k":192.9,"vpt":-0.011e7},{"k":193.8,"vpt":0.015e7},{"k":194.7,"vpt":0},{"k":202.9,"vpt":0.007e7},{"k":204.3,"vpt":0.026e7},{"k":206.6,"vpt":0.082e7},{"k":207.5,"vpt":0.052e7},{"k":208.2,"vpt":-0.011e7},{"k":211.2,"vpt":0},{"k":212.1,"vpt":0.112e7},{"k":212.9,"vpt":0.09e7},{"k":213.7,"vpt":-0.011e7},{"k":215.3,"vpt":-0.011e7},{"k":218.1,"vpt":-0.004e7},{"k":219.0,"vpt":0.052e7},{"k":221.1,"vpt":0.052e7},{"k":221.7,"vpt":0},{"k":230.4,"vpt":0},{"k":236.8,"vpt":0.015e7},{"k":245.0,"vpt":0},{"k":246.1,"vpt":-0.011e7},{"k":247.3,"vpt":0.007e7},{"k":249.4,"vpt":0.007e7}
    ],
    "months": [
      {"date":"2022-11-01"},{"date":"2023-01-01"},{"date":"2023-03-01"},{"date":"2023-05-01"},{"date":"2023-07-01"},{"date":"2023-09-01"},{"date":"2023-11-01"}
    ]
  },
  "vconcat": [
    {
      "width": 1915, "height": 363.5,
      "data": {"name": "price"},
      "mark": {"type": "line", "color": "#008000", "strokeWidth": 2.1},
      "encoding": {
        "x": {"field": "k", "type": "quantitative", "scale": {"domain": [-12.686, 261.85], "nice": false, "zero": false}, "axis": null},
        "y": {"field": "close", "type": "quantitative", "scale": {"domain": [5466, 40739], "nice": false, "zero": false}, "axis": {"values": [10000, 15000, 20000, 25000, 30000, 35000, 40000], "format": "d", "title": null}}
      }
    },
    {
      "width": 1915, "height": 181,
      "data": {"name": "volume"},
      "mark": {"type": "bar", "orient": "vertical", "size": 3.5},
      "encoding": {
        "x": {"field": "k", "type": "quantitative", "scale": {"domain": [-12.686, 261.85], "nice": false, "zero": false, "padding": 0}, "axis": null},
        "y": {"field": "v", "type": "quantitative", "scale": {"domain": [0, 4.827e7], "nice": false, "padding": 0}, "axis": {"values": [0, 1e7, 2e7, 3e7, 4e7], "labelExpr": "format(datum.value/1e7, 'd')", "title": "1e7", "titleAngle": 0, "titleAlign": "left", "titleBaseline": "alphabetic", "titleX": 0, "titleY": -4}},
        "color": {"field": "dir", "type": "nominal", "scale": {"domain": ["up", "down", "flat"], "range": ["#ff0000", "#0000ff", "#000000"]}, "legend": null}
      }
    },
    {
      "width": 1915, "height": 182,
      "data": {"name": "obv"},
      "mark": {"type": "line", "strokeWidth": 2.1},
      "encoding": {
        "x": {"field": "k", "type": "quantitative", "scale": {"domain": [-12.686, 261.85], "nice": false, "zero": false}, "axis": null},
        "y": {"field": "obv", "type": "quantitative", "scale": {"domain": [0.53e8, 7.28e8], "nice": false, "zero": false}, "axis": {"values": [2e8, 4e8, 6e8], "labelExpr": "format(datum.value/1e8, 'd')", "title": "1e8", "titleAngle": 0, "titleAlign": "left", "titleBaseline": "alphabetic", "titleX": 0, "titleY": -4}},
        "color": {"datum": "OBV", "type": "nominal", "scale": {"domain": ["OBV"], "range": ["#0000ff"]}, "legend": {"title": null}}
      }
    },
    {
      "width": 1915, "height": 181.5,
      "data": {"name": "cmf"},
      "mark": {"type": "line", "strokeWidth": 2.1},
      "encoding": {
        "x": {"field": "k", "type": "quantitative", "scale": {"domain": [-12.686, 261.85], "nice": false, "zero": false}, "axis": null},
        "y": {"field": "cmf", "type": "quantitative", "scale": {"domain": [-0.755, 0.473], "nice": false, "zero": false}, "axis": {"values": [-0.75, -0.5, -0.25, 0, 0.25], "format": ".2f", "title": null}},
        "color": {"datum": "CMF(20)", "type": "nominal", "scale": {"domain": ["CMF(20)"], "range": ["#0000ff"]}, "legend": {"title": null}}
      }
    },
    {
      "width": 1915, "height": 181.5,
      "layer": [
        {
          "data": {"name": "vpt"},
          "mark": {"type": "line", "strokeWidth": 2.1},
          "encoding": {
            "x": {"field": "k", "type": "quantitative", "scale": {"domain": [-12.686, 261.85], "nice": false, "zero": false}, "axis": null},
            "y": {"field": "vpt", "type": "quantitative", "scale": {"domain": [-0.321e7, 1.713e7], "nice": false, "zero": false}, "axis": {"values": [0, 0.5e7, 1e7, 1.5e7], "labelExpr": "format(datum.value/1e7, '.1f')", "title": "1e7", "titleAngle": 0, "titleAlign": "left", "titleBaseline": "alphabetic", "titleX": 0, "titleY": -4}},
            "color": {"datum": "VPT", "type": "nominal", "scale": {"domain": ["VPT"], "range": ["#0000ff"]}, "legend": {"title": null}}
          }
        },
        {
          "data": {"name": "months"},
          "mark": {"type": "point", "opacity": 0},
          "encoding": {
            "x": {"field": "date", "type": "temporal", "scale": {"type": "utc", "domain": [{"year": 2022, "month": 10, "date": 7, "hours": 9, "minutes": 11, "utc": true}, {"year": 2023, "month": 11, "date": 17, "hours": 11, "minutes": 17, "utc": true}], "nice": false}, "axis": {"values": [{"year": 2022, "month": 11, "date": 1, "utc": true}, {"year": 2023, "month": 1, "date": 1, "utc": true}, {"year": 2023, "month": 3, "date": 1, "utc": true}, {"year": 2023, "month": 5, "date": 1, "utc": true}, {"year": 2023, "month": 7, "date": 1, "utc": true}, {"year": 2023, "month": 9, "date": 1, "utc": true}, {"year": 2023, "month": 11, "date": 1, "utc": true}], "labelExpr": "utcFormat(datum.value, '%Y-%m')", "title": null, "labelFlush": false, "labelOverlap": false}}
          }
        }
      ],
      "resolve": {"scale": {"x": "independent"}, "axis": {"x": "independent"}}
    }
  ]
}
